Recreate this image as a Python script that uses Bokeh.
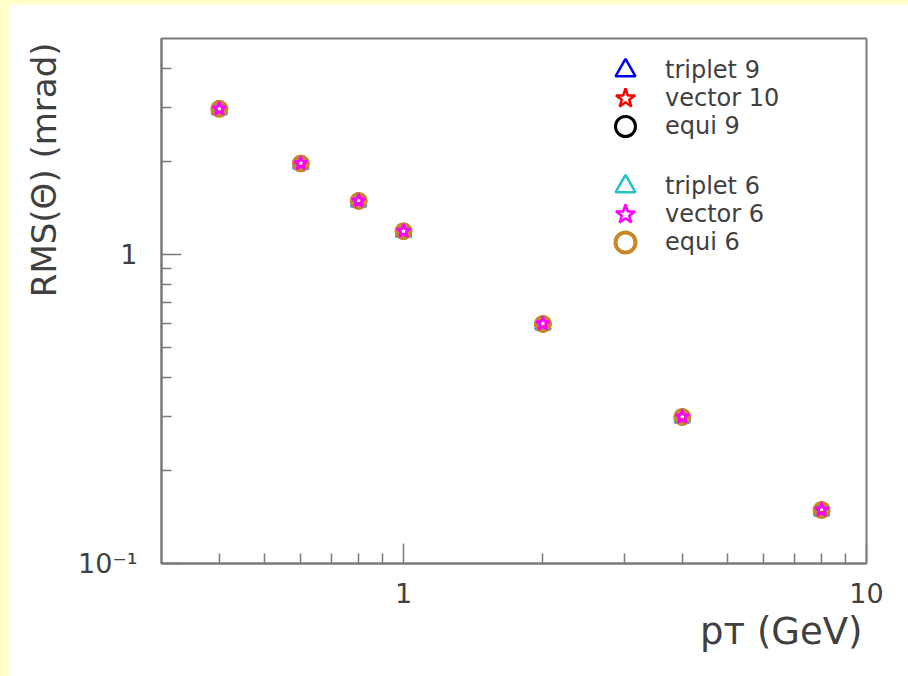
from bokeh.plotting import figure
from bokeh.models import (Range1d, FixedTicker, Legend, LegendItem, Title,
                          GlobalInlineStyleSheet, ColumnDataSource)
from bokeh.embed import file_html
from bokeh.resources import INLINE

# ---------------- data ----------------
pt = [0.4, 0.6, 0.8, 1.0, 2.0, 4.0, 8.0]
triplet9 = [2.94, 1.96, 1.48, 1.18, 0.592, 0.296, 0.148]
vector10 = [2.97, 1.98, 1.50, 1.19, 0.598, 0.299, 0.150]
equi9 = [2.96, 1.97, 1.49, 1.19, 0.596, 0.298, 0.149]
triplet6 = [2.94, 1.96, 1.48, 1.18, 0.592, 0.296, 0.148]
vector6 = [2.96, 1.97, 1.49, 1.19, 0.597, 0.298, 0.149]
equi6 = [2.96, 1.97, 1.49, 1.19, 0.596, 0.298, 0.149]

x_major = [1, 10]
x_minor = [0.4, 0.5, 0.6, 0.7, 0.8, 0.9, 2, 3, 4, 5, 6, 7, 8, 9]
y_major = [0.1, 1]
y_minor = [0.2, 0.3, 0.4, 0.5, 0.6, 0.7, 0.8, 0.9, 2, 3, 4]
x_labels = {1: "1", 10: "10"}
y_labels = {0.1: "10\u207b\u00b9", 1: "1"}
x_title = "p\u1d1b (GeV)"
y_title = "RMS(\u0398) (mrad)"

FONT = "DejaVu Sans"
GREY = "#7a7a7a"
TXT = "#404040"

p = figure(width=899, height=672, x_axis_type="log", y_axis_type="log",
           x_range=Range1d(0.3, 10), y_range=Range1d(0.1, 5),
           output_backend="svg", toolbar_location=None,
           min_border_left=149, min_border_right=42,
           min_border_top=34, min_border_bottom=113)
p.stylesheets = [GlobalInlineStyleSheet(
    css="body { background-color: #ffffcc; padding: 4px 0 0 9px; overflow: hidden; }")]
p.background_fill_color = "white"
p.border_fill_color = "white"
p.outline_line_color = GREY
p.outline_line_width = 2
p.xgrid.visible = False
p.ygrid.visible = False

p.xaxis.ticker = FixedTicker(ticks=x_major, minor_ticks=x_minor)
p.yaxis.ticker = FixedTicker(ticks=y_major, minor_ticks=y_minor)
p.xaxis.major_label_overrides = x_labels
p.yaxis.major_label_overrides = y_labels
for ax in (p.xaxis[0], p.yaxis[0]):
    ax.axis_line_color = GREY
    ax.axis_line_width = 2
    ax.major_tick_in = 20
    ax.major_tick_out = 0
    ax.minor_tick_in = 10
    ax.minor_tick_out = 0
    ax.major_tick_line_color = GREY
    ax.minor_tick_line_color = GREY
    ax.major_tick_line_width = 1.5
    ax.minor_tick_line_width = 1.5
    ax.major_label_text_font = FONT
    ax.major_label_text_font_size = "27px"
    ax.major_label_text_color = TXT
p.xaxis.major_label_standoff = 19
p.yaxis.major_label_standoff = 24

def src(ys):
    return ColumnDataSource(dict(x=pt, y=ys))

r_t9 = p.scatter("x", "y", source=src(triplet9), marker="triangle", size=15,
                 fill_color=None, line_color="#0000ee", line_width=2.5)
r_v10 = p.scatter("x", "y", source=src(vector10), marker="star", size=15,
                  fill_color=None, line_color="#ff0000", line_width=2.5)
r_e9 = p.scatter("x", "y", source=src(equi9), marker="circle", size=14,
                 fill_color=None, line_color="#000000", line_width=3)
r_t6 = p.scatter("x", "y", source=src(triplet6), marker="triangle", size=15,
                 fill_color=None, line_color="#22c4c4", line_width=2.5)
r_e6 = p.scatter("x", "y", source=src(equi6), marker="circle", size=14,
                 fill_color=None, line_color="#c8882a", line_width=4)
r_v6 = p.scatter("x", "y", source=src(vector6), marker="star", size=14,
                 fill_color=None, line_color="#ff00ff", line_width=2.5)

entries = [("triplet 9", r_t9, 468), ("vector 10", r_v10, 440),
           ("equi 9", r_e9, 412), ("triplet 6", r_t6, 352),
           ("vector 6", r_v6, 324), ("equi 6", r_e6, 296)]
for label, rend, vy in entries:
    lg = Legend(items=[LegendItem(label=label, renderers=[rend])],
                location=(439, vy), orientation="vertical",
                glyph_width=50, glyph_height=50, spacing=0, padding=0,
                margin=0, label_standoff=15, border_line_color=None,
                background_fill_alpha=0, label_text_font=FONT,
                label_text_font_size="24px", label_text_color=TXT,
                label_height=26)
    p.add_layout(lg, "center")

# axis titles (ROOT style, aligned at the axis end)
p.add_layout(Title(text=y_title, align="right", offset=4, standoff=24,
                   text_font=FONT, text_font_size="34px",
                   text_font_style="normal", text_color=TXT), "left")
p.add_layout(Title(text=x_title, align="right", offset=4, standoff=4,
                   text_font=FONT, text_font_size="37px",
                   text_font_style="normal", text_color=TXT), "below")

open("out.html", "w").write(file_html(p, INLINE))
